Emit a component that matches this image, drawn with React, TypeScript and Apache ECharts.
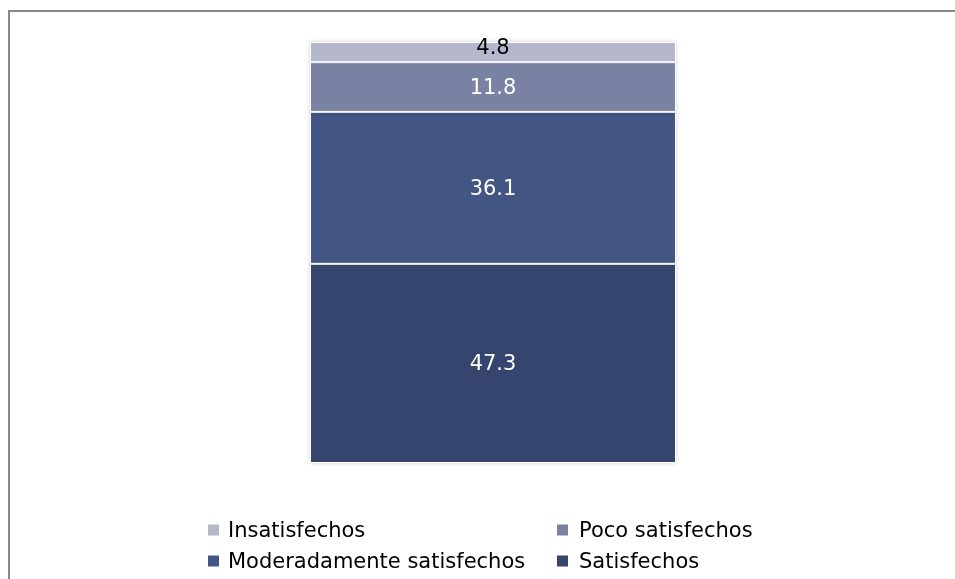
import React, { useEffect, useRef } from "react";
import * as echarts from "echarts";

const categories = ["Total"];
const seriesNames = ["Satisfechos", "Moderadamente satisfechos", "Poco satisfechos", "Insatisfechos"];
const satisfechos = [47.3];
const moderadamente = [36.1];
const poco = [11.8];
const insatisfechos = [4.8];
const colors = ["#36456d", "#435583", "#7a82a3", "#b5b8cb"];

export default function App() {
  const ref = useRef<HTMLDivElement>(null);
  useEffect(() => {
    if (!ref.current) return;
    const chart = echarts.init(ref.current, null, { renderer: "svg" });
    const values = [satisfechos, moderadamente, poco, insatisfechos];
    const font = "'DejaVu Sans', sans-serif";
    const legendBase = {
      orient: "vertical",
      top: 510,
      height: 80,
      padding: 0,
      itemWidth: 13,
      itemHeight: 13,
      itemGap: 7,
      icon: "rect",
    };
    chart.setOption({
      animation: false,
      graphic: [
        {
          type: "rect",
          shape: { x: 1, y: 3, width: 2000, height: 2000 },
          style: { fill: "none", stroke: "#888888", lineWidth: 2 },
          silent: true,
        },
      ],
      grid: { left: 302, top: 34, width: 366, height: 421 },
      xAxis: { type: "category", data: categories, show: false },
      yAxis: { type: "value", min: 0, max: 100, show: false },
      legend: [
        {
          ...legendBase,
          left: 198,
          data: ["Insatisfechos", "Moderadamente satisfechos"],
          textStyle: { fontFamily: font, fontSize: 21, color: "#000", lineHeight: 24, padding: [0, 0, 0, 3] },
        },
        {
          ...legendBase,
          left: 547,
          data: ["Poco satisfechos", "Satisfechos"],
          textStyle: { fontFamily: font, fontSize: 21, color: "#000", lineHeight: 24, padding: [0, 0, 0, 5] },
        },
      ],
      series: seriesNames.map((name, i) => ({
        name,
        type: "bar",
        stack: "total",
        data: values[i],
        barWidth: 366,
        itemStyle: {
          color: colors[i],
          borderColor: "#ffffff",
          borderWidth: 1,
          shadowColor: "rgba(0,0,0,0.18)",
          shadowBlur: 4,
        },
        label: {
          show: true,
          position: "inside",
          offset: i === 3 ? [0, -5] : [0, 0],
          color: i === 3 ? "#000000" : "#ffffff",
          fontFamily: font,
          fontSize: 21,
          formatter: (p: any) => p.value.toFixed(1),
        },
      })),
    });
    return () => chart.dispose();
  }, []);
  return (
    <div
      ref={ref}
      style={{ position: "fixed", top: 8, left: 8, width: 947, height: 571 }}
    />
  );
}
